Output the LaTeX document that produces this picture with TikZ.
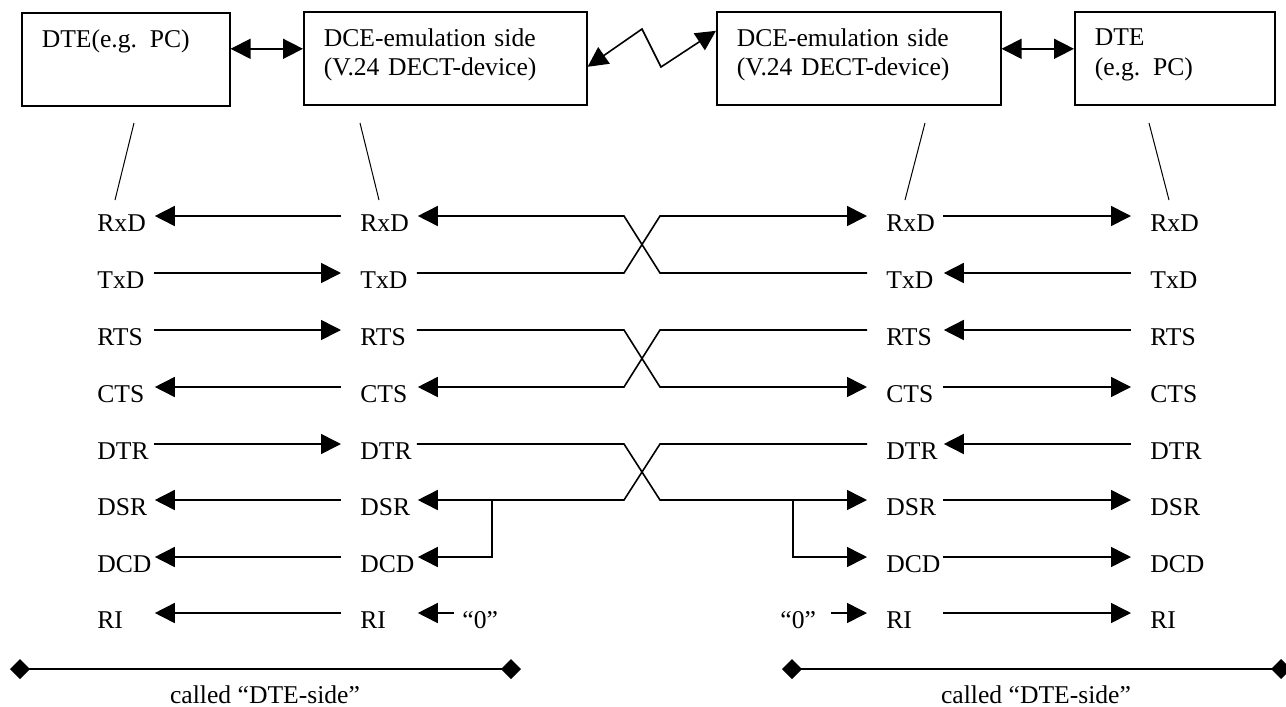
\documentclass[tikz,border=0pt]{standalone}
\usepackage{fontspec}
\usetikzlibrary{arrows.meta}
\setmainfont{Liberation Serif}

\tikzset{
    tip/.style={-{Triangle[length=10pt,width=10pt]}},
    bothtips/.style={{Triangle[length=10pt,width=10pt]}-{Triangle[length=10pt,width=10pt]}},
    goright/.style={shorten <=1pt, shorten >=9.5pt},
    goleft/.style={shorten <=9.5pt, shorten >=1.5pt},
    wire/.style={line width=0.8pt},
    devbox/.style={draw, line width=0.8pt, anchor=north west, inner xsep=10pt, inner ysep=0pt,
        minimum height=46.5pt, align=left},
    zeroname/.style={anchor=west, inner sep=0pt, text height=15pt, text depth=0pt},
    signame/.style={zeroname, text width=27pt},
    bracket/.style={line width=0.8pt, {Diamond[length=10pt,width=10pt]}-{Diamond[length=10pt,width=10pt]}}
}

\begin{document}
\begin{tikzpicture}[x=0.5pt,y=-0.5pt,every node/.append style={font=\fontsize{12.8}{14.75}\selectfont}]
    \useasboundingbox (0,0) rectangle (1286,707);

    % The four devices
    \node[devbox, text width=84pt] (dtea) at (21,12) {DTE(e.g. PC)\\\mbox{}\\[-8.75pt]\mbox{}};
    \node[devbox, text width=121.5pt] (dcea) at (303,11) {DCE-emulation side\\(V.24 DECT-device)\\[-8.75pt]\mbox{}};
    \node[devbox, text width=122pt] (dceb) at (716,11) {DCE-emulation side\\(V.24 DECT-device)\\[-8.75pt]\mbox{}};
    \node[devbox, text width=80pt] (dteb) at (1074,11) {DTE\\(e.g. PC)\\[-8.75pt]\mbox{}};

    % Links between the devices
    \draw[wire, bothtips] ([yshift=5.25pt]dtea.east) -- ([yshift=4.75pt]dcea.west);
    \draw[wire, bothtips] ([yshift=4.75pt]dceb.east) -- ([yshift=4.75pt]dteb.west);
    \draw[wire, bothtips] ([yshift=-4.25pt]dcea.east) -- (642,29) -- (661,67) -- ([yshift=13.75pt]dceb.west);

    % Lines from the devices down to the signal columns
    \foreach \i/\xa/\xb in {a/134/115, b/360/379, c/925/905, d/1149/1169} {
        \coordinate (top\i) at (\xa,123);
        \coordinate (bot\i) at (\xb,200);
        \draw[line width=0.5pt] (top\i) -- (bot\i);
    }

    % Signal names, one row each
    \foreach \sig/\y in {RxD/216, TxD/273, RTS/330, CTS/387, DTR/444, DSR/500, DCD/557, RI/613} {
        \node[signame] (a\sig) at (97,\y) {\sig};
        \node[signame] (b\sig) at (360,\y) {\sig};
        \node[signame] (c\sig) at (886,\y) {\sig};
        \node[signame] (d\sig) at (1150,\y) {\sig};
    }

    % Rows going one way on each side
    \foreach \sig in {TxD, RTS, DTR} {
        \draw[wire, tip, goright] (a\sig.east) -- (b\sig.west);
        \draw[wire, tip, goleft] (d\sig.west) -- (c\sig.east);
    }
    \foreach \sig in {RxD, CTS, DSR, DCD, RI} {
        \draw[wire, tip, goleft] (b\sig.west) -- (a\sig.east);
        \draw[wire, tip, goright] (c\sig.east) -- (d\sig.west);
    }

    % Crossed pairs in the middle
    \coordinate (crossl) at (624,0);
    \coordinate (crossr) at (660,0);
    \foreach \from/\to in {TxD/RxD, RTS/CTS, DTR/DSR} {
        \draw[wire, tip, goleft] (c\from.west) -- (crossr |- c\from) -- (crossl |- b\to) -- (b\to.east);
        \draw[wire, tip, goright] (b\from.east) -- (crossl |- b\from) -- (crossr |- c\to) -- (c\to.west);
    }

    % DSR also feeds DCD
    \coordinate (junca) at (492,500);
    \coordinate (juncb) at (793,500);
    \draw[wire, tip, shorten >=1.5pt] (junca) |- (bDCD.east);
    \draw[wire, tip, shorten >=9.5pt] (juncb) |- (cDCD.west);

    % RI tied to zero
    \node[zeroname] (bzero) at (462,613) {“0”};
    \node[zeroname] (czero) at (780,613) {“0”};
    \draw[wire, tip, shorten <=4pt, shorten >=1.5pt] (bzero.west) -- (bRI.east);
    \draw[wire, tip, shorten <=7.5pt, shorten >=9.5pt] (czero.east) -- (cRI.west);

    % The two brackets
    \coordinate (bracka) at (10,669);
    \coordinate (brackb) at (521,669);
    \coordinate (brackc) at (782,669);
    \coordinate (brackd) at (1291,669);
    \draw[bracket] (bracka) -- (brackb);
    \draw[bracket] (brackc) -- (brackd);
    \node[anchor=base, inner sep=0pt] (calleda) at (265,703) {called “DTE-side”};
    \node[anchor=base, inner sep=0pt] (calledb) at (1036,703) {called “DTE-side”};
\end{tikzpicture}
\end{document}
